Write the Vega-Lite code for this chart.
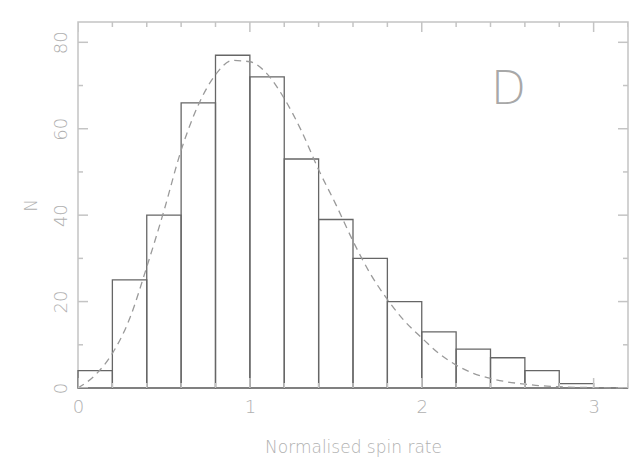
{
  "$schema": "https://vega.github.io/schema/vega-lite/v6.json",
  "width": 550,
  "height": 366,
  "autosize": "none",
  "padding": {"left": 78, "top": 22, "right": 12, "bottom": 86},
  "background": "white",
  "config": {
    "font": "DejaVu Sans",
    "view": {"stroke": "#c4c4c4", "strokeWidth": 1.5},
    "axis": {
      "domain": false,
      "grid": false,
      "ticks": false,
      "labelColor": "#b0b0b0",
      "labelFont": "DejaVu Sans",
      "labelFontWeight": 300,
      "labelFontSize": 18,
      "titleColor": "#b0b0b0",
      "titleFont": "DejaVu Sans",
      "titleFontWeight": 300,
      "titleFontSize": 17
    }
  },
  "datasets": {
    "bins": [
      {"x0": 0.0, "x1": 0.2, "n": 4},
      {"x0": 0.2, "x1": 0.4, "n": 25},
      {"x0": 0.4, "x1": 0.6, "n": 40},
      {"x0": 0.6, "x1": 0.8, "n": 66},
      {"x0": 0.8, "x1": 1.0, "n": 77},
      {"x0": 1.0, "x1": 1.2, "n": 72},
      {"x0": 1.2, "x1": 1.4, "n": 53},
      {"x0": 1.4, "x1": 1.6, "n": 39},
      {"x0": 1.6, "x1": 1.8, "n": 30},
      {"x0": 1.8, "x1": 2.0, "n": 20},
      {"x0": 2.0, "x1": 2.2, "n": 13},
      {"x0": 2.2, "x1": 2.4, "n": 9},
      {"x0": 2.4, "x1": 2.6, "n": 7},
      {"x0": 2.6, "x1": 2.8, "n": 4},
      {"x0": 2.8, "x1": 3.0, "n": 1},
      {"x0": 3.0, "x1": 3.2, "n": 0}
    ],
    "fit": [
      {"x": 0.0, "y": 0},
      {"x": 0.1, "y": 3},
      {"x": 0.2, "y": 8},
      {"x": 0.3, "y": 16},
      {"x": 0.4, "y": 28},
      {"x": 0.5, "y": 41},
      {"x": 0.6, "y": 55},
      {"x": 0.7, "y": 65.5},
      {"x": 0.8, "y": 72.5},
      {"x": 0.9, "y": 75.8},
      {"x": 1.0, "y": 75.5},
      {"x": 1.1, "y": 72.7},
      {"x": 1.2, "y": 67},
      {"x": 1.3, "y": 59.5},
      {"x": 1.4, "y": 50.5},
      {"x": 1.5, "y": 42.5},
      {"x": 1.6, "y": 34},
      {"x": 1.7, "y": 26.5},
      {"x": 1.8, "y": 20.5},
      {"x": 1.9, "y": 15.5},
      {"x": 2.0, "y": 11.6},
      {"x": 2.1, "y": 8},
      {"x": 2.2, "y": 5.3},
      {"x": 2.3, "y": 3.4},
      {"x": 2.4, "y": 2.2},
      {"x": 2.5, "y": 1.4},
      {"x": 2.6, "y": 0.9},
      {"x": 2.7, "y": 0.5},
      {"x": 2.8, "y": 0.3},
      {"x": 2.9, "y": 0.15},
      {"x": 3.0, "y": 0.1},
      {"x": 3.1, "y": 0.05},
      {"x": 3.2, "y": 0}
    ],
    "xmajor": [{"v": 0}, {"v": 1}, {"v": 2}, {"v": 3}],
    "xminor": [
      {"v": 0.2}, {"v": 0.4}, {"v": 0.6}, {"v": 0.8},
      {"v": 1.2}, {"v": 1.4}, {"v": 1.6}, {"v": 1.8},
      {"v": 2.2}, {"v": 2.4}, {"v": 2.6}, {"v": 2.8},
      {"v": 3.2}
    ],
    "ymajor": [{"v": 0}, {"v": 20}, {"v": 40}, {"v": 60}, {"v": 80}],
    "yminor": [{"v": 10}, {"v": 30}, {"v": 50}, {"v": 70}],
    "label": [{"x": 2.505, "y": 69, "text": "D"}]
  },
  "layer": [
    {
      "data": {"name": "bins"},
      "mark": {"type": "bar", "fill": null, "fillOpacity": 0, "stroke": "#666666", "strokeWidth": 1.3},
      "encoding": {
        "x": {
          "field": "x0", "type": "quantitative",
          "scale": {"domain": [0, 3.2], "nice": false, "zero": false},
          "axis": {
            "orient": "bottom",
            "title": "Normalised spin rate",
            "values": [0, 1, 2, 3],
            "format": "d",
            "labelPadding": 10,
            "labelBaseline": "top",
            "labelFlush": false,
            "titlePadding": 23
          }
        },
        "x2": {"field": "x1"},
        "y": {
          "field": "n", "type": "quantitative",
          "scale": {"domain": [0, 84.7], "nice": false},
          "axis": {
            "orient": "left",
            "title": "N",
            "titleAngle": -90,
            "values": [0, 20, 40, 60, 80],
            "labelAngle": -90,
            "labelAlign": "center",
            "labelBaseline": "alphabetic",
            "labelPadding": 12,
            "labelFlush": false,
            "titlePadding": 12
          }
        },
        "y2": {"datum": 0}
      }
    },
    {
      "data": {"name": "fit"},
      "mark": {"type": "line", "stroke": "#9a9a9a", "strokeWidth": 1.3, "strokeDash": [7, 5], "interpolate": "monotone"},
      "encoding": {
        "x": {"field": "x", "type": "quantitative", "scale": {"domain": [0, 3.2], "nice": false, "zero": false}, "axis": null},
        "y": {"field": "y", "type": "quantitative", "scale": {"domain": [0, 84.7], "nice": false}, "axis": null}
      }
    },
    {
      "data": {"name": "xmajor"},
      "layer": [
        {
          "mark": {"type": "tick", "orient": "vertical", "size": 20, "thickness": 1.5, "color": "#c4c4c4", "opacity": 1, "clip": true},
          "encoding": {
            "x": {"field": "v", "type": "quantitative", "scale": {"domain": [0, 3.2], "nice": false, "zero": false}, "axis": null},
            "y": {"datum": 0, "type": "quantitative", "scale": {"domain": [0, 84.7], "nice": false}, "axis": null}
          }
        },
        {
          "mark": {"type": "tick", "orient": "vertical", "size": 20, "thickness": 1.5, "color": "#c4c4c4", "opacity": 1, "clip": true},
          "encoding": {
            "x": {"field": "v", "type": "quantitative", "scale": {"domain": [0, 3.2], "nice": false, "zero": false}, "axis": null},
            "y": {"datum": 84.7, "type": "quantitative", "scale": {"domain": [0, 84.7], "nice": false}, "axis": null}
          }
        }
      ]
    },
    {
      "data": {"name": "xminor"},
      "layer": [
        {
          "mark": {"type": "tick", "orient": "vertical", "size": 10, "thickness": 1.5, "color": "#c4c4c4", "opacity": 1, "clip": true},
          "encoding": {
            "x": {"field": "v", "type": "quantitative", "scale": {"domain": [0, 3.2], "nice": false, "zero": false}, "axis": null},
            "y": {"datum": 0, "type": "quantitative", "scale": {"domain": [0, 84.7], "nice": false}, "axis": null}
          }
        },
        {
          "mark": {"type": "tick", "orient": "vertical", "size": 10, "thickness": 1.5, "color": "#c4c4c4", "opacity": 1, "clip": true},
          "encoding": {
            "x": {"field": "v", "type": "quantitative", "scale": {"domain": [0, 3.2], "nice": false, "zero": false}, "axis": null},
            "y": {"datum": 84.7, "type": "quantitative", "scale": {"domain": [0, 84.7], "nice": false}, "axis": null}
          }
        }
      ]
    },
    {
      "data": {"name": "ymajor"},
      "layer": [
        {
          "mark": {"type": "tick", "orient": "horizontal", "size": 20, "thickness": 1.5, "color": "#c4c4c4", "opacity": 1, "clip": true},
          "encoding": {
            "y": {"field": "v", "type": "quantitative", "scale": {"domain": [0, 84.7], "nice": false}, "axis": null},
            "x": {"datum": 0, "type": "quantitative", "scale": {"domain": [0, 3.2], "nice": false, "zero": false}, "axis": null}
          }
        },
        {
          "mark": {"type": "tick", "orient": "horizontal", "size": 20, "thickness": 1.5, "color": "#c4c4c4", "opacity": 1, "clip": true},
          "encoding": {
            "y": {"field": "v", "type": "quantitative", "scale": {"domain": [0, 84.7], "nice": false}, "axis": null},
            "x": {"datum": 3.2, "type": "quantitative", "scale": {"domain": [0, 3.2], "nice": false, "zero": false}, "axis": null}
          }
        }
      ]
    },
    {
      "data": {"name": "yminor"},
      "layer": [
        {
          "mark": {"type": "tick", "orient": "horizontal", "size": 10, "thickness": 1.5, "color": "#c4c4c4", "opacity": 1, "clip": true},
          "encoding": {
            "y": {"field": "v", "type": "quantitative", "scale": {"domain": [0, 84.7], "nice": false}, "axis": null},
            "x": {"datum": 0, "type": "quantitative", "scale": {"domain": [0, 3.2], "nice": false, "zero": false}, "axis": null}
          }
        },
        {
          "mark": {"type": "tick", "orient": "horizontal", "size": 10, "thickness": 1.5, "color": "#c4c4c4", "opacity": 1, "clip": true},
          "encoding": {
            "y": {"field": "v", "type": "quantitative", "scale": {"domain": [0, 84.7], "nice": false}, "axis": null},
            "x": {"datum": 3.2, "type": "quantitative", "scale": {"domain": [0, 3.2], "nice": false, "zero": false}, "axis": null}
          }
        }
      ]
    },
    {
      "data": {"name": "label"},
      "mark": {"type": "text", "fontSize": 46, "font": "DejaVu Sans", "fontWeight": 200, "color": "#a8a8a8", "align": "center", "baseline": "middle"},
      "encoding": {
        "x": {"field": "x", "type": "quantitative", "scale": {"domain": [0, 3.2], "nice": false, "zero": false}, "axis": null},
        "y": {"field": "y", "type": "quantitative", "scale": {"domain": [0, 84.7], "nice": false}, "axis": null},
        "text": {"field": "text"}
      }
    }
  ],
  "resolve": {"axis": {"x": "independent", "y": "independent"}}
}
